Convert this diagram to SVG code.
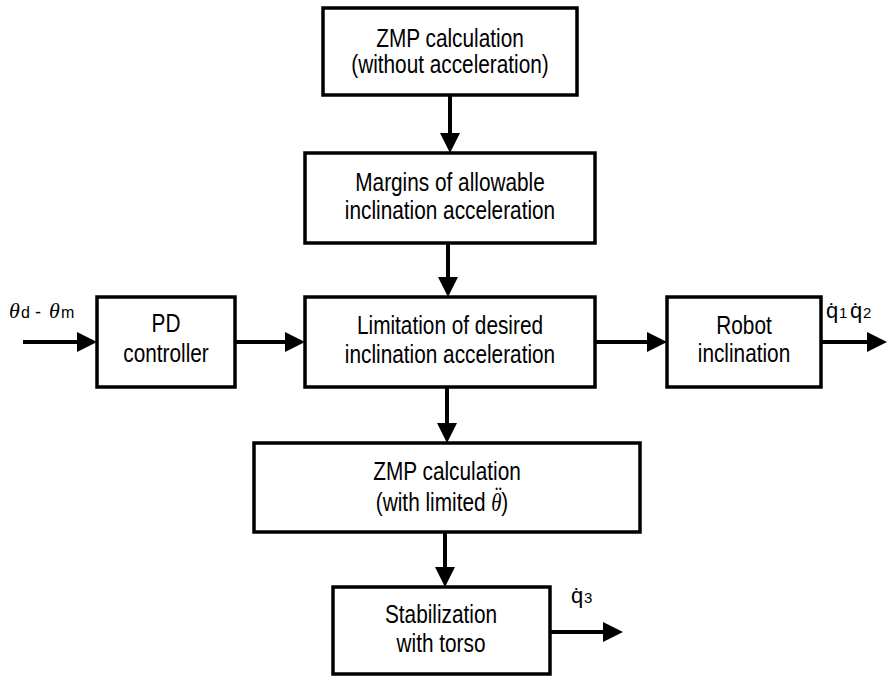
<svg xmlns="http://www.w3.org/2000/svg" width="888" height="677" viewBox="0 0 888 677">
<defs>
<marker id="ah" markerUnits="userSpaceOnUse" markerWidth="20" markerHeight="20" refX="8" refY="10" orient="auto">
<path d="M0,0 L20,10 L0,20 z" fill="#000"/>
</marker>
<style>
.box{fill:#fff;stroke:#000;stroke-width:3.5}
.t{font-family:"Liberation Sans",Arial,sans-serif;font-size:26px;text-anchor:middle;fill:#000}
.c{stroke:#000;stroke-width:4;fill:none;marker-end:url(#ah)}
.m{font-family:"Liberation Serif","Times New Roman",serif;font-style:italic}
.s{font-family:"Liberation Sans",Arial,sans-serif}
</style>
</defs>
<rect width="888" height="677" fill="#fff"/>
<g id="connectors">
<line class="c" x1="450" y1="95" x2="450" y2="141"/>
<line class="c" x1="448" y1="243" x2="448" y2="285"/>
<line class="c" x1="447" y1="387" x2="447" y2="431"/>
<line class="c" x1="445" y1="532" x2="445" y2="575"/>
<line class="c" x1="23" y1="342" x2="85" y2="342"/>
<line class="c" x1="235" y1="342" x2="293" y2="342"/>
<line class="c" x1="595" y1="342" x2="655" y2="342"/>
<line class="c" x1="821" y1="342" x2="875" y2="342"/>
<line class="c" x1="550" y1="632" x2="611" y2="632"/>
</g>
<g id="zmp1">
<rect class="box" x="323" y="8" width="254" height="87"/>
<text class="t" transform="translate(450,47) scale(0.8,1)">ZMP calculation</text>
<text class="t" transform="translate(450,73) scale(0.8,1)">(without acceleration)</text>
</g>
<g id="margins">
<rect class="box" x="305" y="153" width="290" height="90"/>
<text class="t" transform="translate(450,191) scale(0.8,1)">Margins of allowable</text>
<text class="t" transform="translate(450,219) scale(0.8,1)">inclination acceleration</text>
</g>
<g id="limitation">
<rect class="box" x="305" y="297" width="290" height="90"/>
<text class="t" transform="translate(450,334) scale(0.8,1)">Limitation of desired</text>
<text class="t" transform="translate(450,363) scale(0.8,1)">inclination acceleration</text>
</g>
<g id="pd">
<rect class="box" x="97" y="297" width="138" height="90"/>
<text class="t" transform="translate(166,332) scale(0.8,1)">PD</text>
<text class="t" transform="translate(166,362) scale(0.8,1)">controller</text>
</g>
<g id="robot">
<rect class="box" x="667" y="297" width="154" height="90"/>
<text class="t" transform="translate(744,334) scale(0.8,1)">Robot</text>
<text class="t" transform="translate(744,362) scale(0.8,1)">inclination</text>
</g>
<g id="zmp2">
<rect class="box" x="254" y="443" width="386" height="89"/>
<text class="t" transform="translate(447,480) scale(0.8,1)">ZMP calculation</text>
<text class="t" transform="translate(442,511) scale(0.8,1)">(with limited <tspan class="m">θ</tspan><tspan class="m" dx="-10" dy="-7">¨</tspan><tspan dx="1" dy="7">)</tspan></text>
</g>
<g id="stabilization">
<rect class="box" x="333" y="587" width="217" height="87"/>
<text class="t" transform="translate(441,623) scale(0.8,1)">Stabilization</text>
<text class="t" transform="translate(441,652) scale(0.8,1)">with torso</text>
</g>
<g id="labels">
<text y="318" font-size="22"><tspan class="m" x="9">θ</tspan><tspan class="s" x="21" font-size="16">d</tspan><tspan class="s" x="35" font-size="18">-</tspan><tspan class="m" x="49">θ</tspan><tspan class="s" x="61" font-size="16">m</tspan></text>
<text class="s" y="318" font-size="22"><tspan x="826">q̇</tspan><tspan x="839" font-size="15">1</tspan><tspan x="850">q̇</tspan><tspan x="863" font-size="15">2</tspan></text>
<text class="s" y="603" font-size="22"><tspan x="571">q̇</tspan><tspan x="584" font-size="15">3</tspan></text>
</g>
</svg>
